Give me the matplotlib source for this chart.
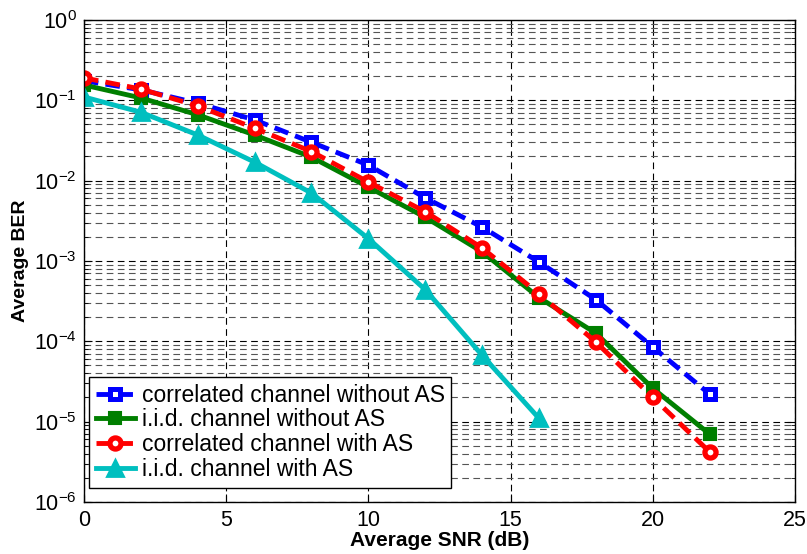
import matplotlib
matplotlib.use("Agg")
import matplotlib.pyplot as plt
from matplotlib.ticker import LogLocator, NullFormatter, FixedLocator

plt.rcParams['font.family'] = ['Liberation Sans', 'DejaVu Sans']
plt.rcParams['mathtext.fontset'] = 'custom'
plt.rcParams['mathtext.rm'] = 'Liberation Sans'

snr = [0, 2, 4, 6, 8, 10, 12, 14, 16, 18, 20, 22]
snr_iid_as = [0, 2, 4, 6, 8, 10, 12, 14, 16]

ber_corr_noAS = [0.175, 0.135, 0.092, 0.057, 0.030, 0.0156, 0.0061, 0.00264, 9.7e-4, 3.3e-4, 8.5e-5, 2.2e-5]
ber_iid_noAS = [0.155, 0.107, 0.066, 0.037, 0.0196, 0.0083, 0.0035, 0.0013, 3.5e-4, 1.26e-4, 2.6e-5, 7.0e-6]
ber_corr_AS = [0.19, 0.138, 0.085, 0.045, 0.023, 0.0096, 0.0041, 0.00145, 3.9e-4, 9.8e-5, 2.0e-5, 4.2e-6]
ber_iid_AS = [0.11, 0.071, 0.037, 0.017, 0.0070, 0.0019, 4.4e-4, 6.7e-5, 1.1e-5]

labels = ['correlated channel without AS', 'i.i.d. channel without AS',
          'correlated channel with AS', 'i.i.d. channel with AS']
xticks = [0, 5, 10, 15, 20, 25]

fig = plt.figure(figsize=(8.07, 5.54), dpi=100)
ax = fig.add_axes([0.104, 0.094, 0.881, 0.870])

ax.semilogy(snr, ber_corr_noAS, '--s', color='#0000ff', lw=3.5, ms=7.5,
            mfc='white', mec='#0000ff', mew=3.6, label=labels[0], dashes=(3, 1.5))
ax.semilogy(snr, ber_iid_noAS, '-s', color='#007f00', lw=3.5, ms=9,
            mfc='#007f00', mec='#007f00', mew=1.5, label=labels[1])
ax.semilogy(snr, ber_corr_AS, '--o', color='#ff0000', lw=3.5, ms=8,
            mfc='white', mec='#ff0000', mew=3.8, label=labels[2], dashes=(3, 1.5))
ax.semilogy(snr_iid_as, ber_iid_AS, '-^', color='#00bfbf', lw=3.5, ms=12,
            mfc='#00bfbf', mec='#00bfbf', mew=2, label=labels[3])

ax.set_xlim(0, 25)
ax.set_ylim(1e-6, 1)
ax.xaxis.set_major_locator(FixedLocator(xticks))
ax.yaxis.set_major_locator(LogLocator(base=10, numticks=10))
ax.yaxis.set_minor_locator(LogLocator(base=10, subs=range(2, 10), numticks=20))
ax.yaxis.set_minor_formatter(NullFormatter())

ax.grid(True, which='major', axis='both', color='black', linestyle=(0, (6, 4)), lw=0.8)
ax.grid(True, which='minor', axis='y', color='#555555', linestyle=(0, (6, 4)), lw=0.8)
ax.set_axisbelow(True)

ax.tick_params(which='both', direction='in', top=True, right=True, labelsize=15.5)
ax.tick_params(axis='y', pad=5)
ax.tick_params(axis='x', pad=6)
ax.tick_params(which='major', length=6)
ax.tick_params(which='minor', length=3)
for s in ax.spines.values():
    s.set_linewidth(1.0)

ax.set_xlabel('Average SNR (dB)', fontsize=15, fontweight='bold', labelpad=0)
ax.set_ylabel('Average BER', fontsize=14, fontweight='bold', labelpad=4)

leg = ax.legend(loc='lower left', bbox_to_anchor=(0.007, 0.029), fontsize=16.5,
                frameon=True, fancybox=False, edgecolor='black', framealpha=1,
                borderpad=0.3, labelspacing=0.08, handlelength=1.7, handletextpad=0.3,
                borderaxespad=0)
leg.get_frame().set_linewidth(1.0)

fig.savefig('out.png', dpi=100)
